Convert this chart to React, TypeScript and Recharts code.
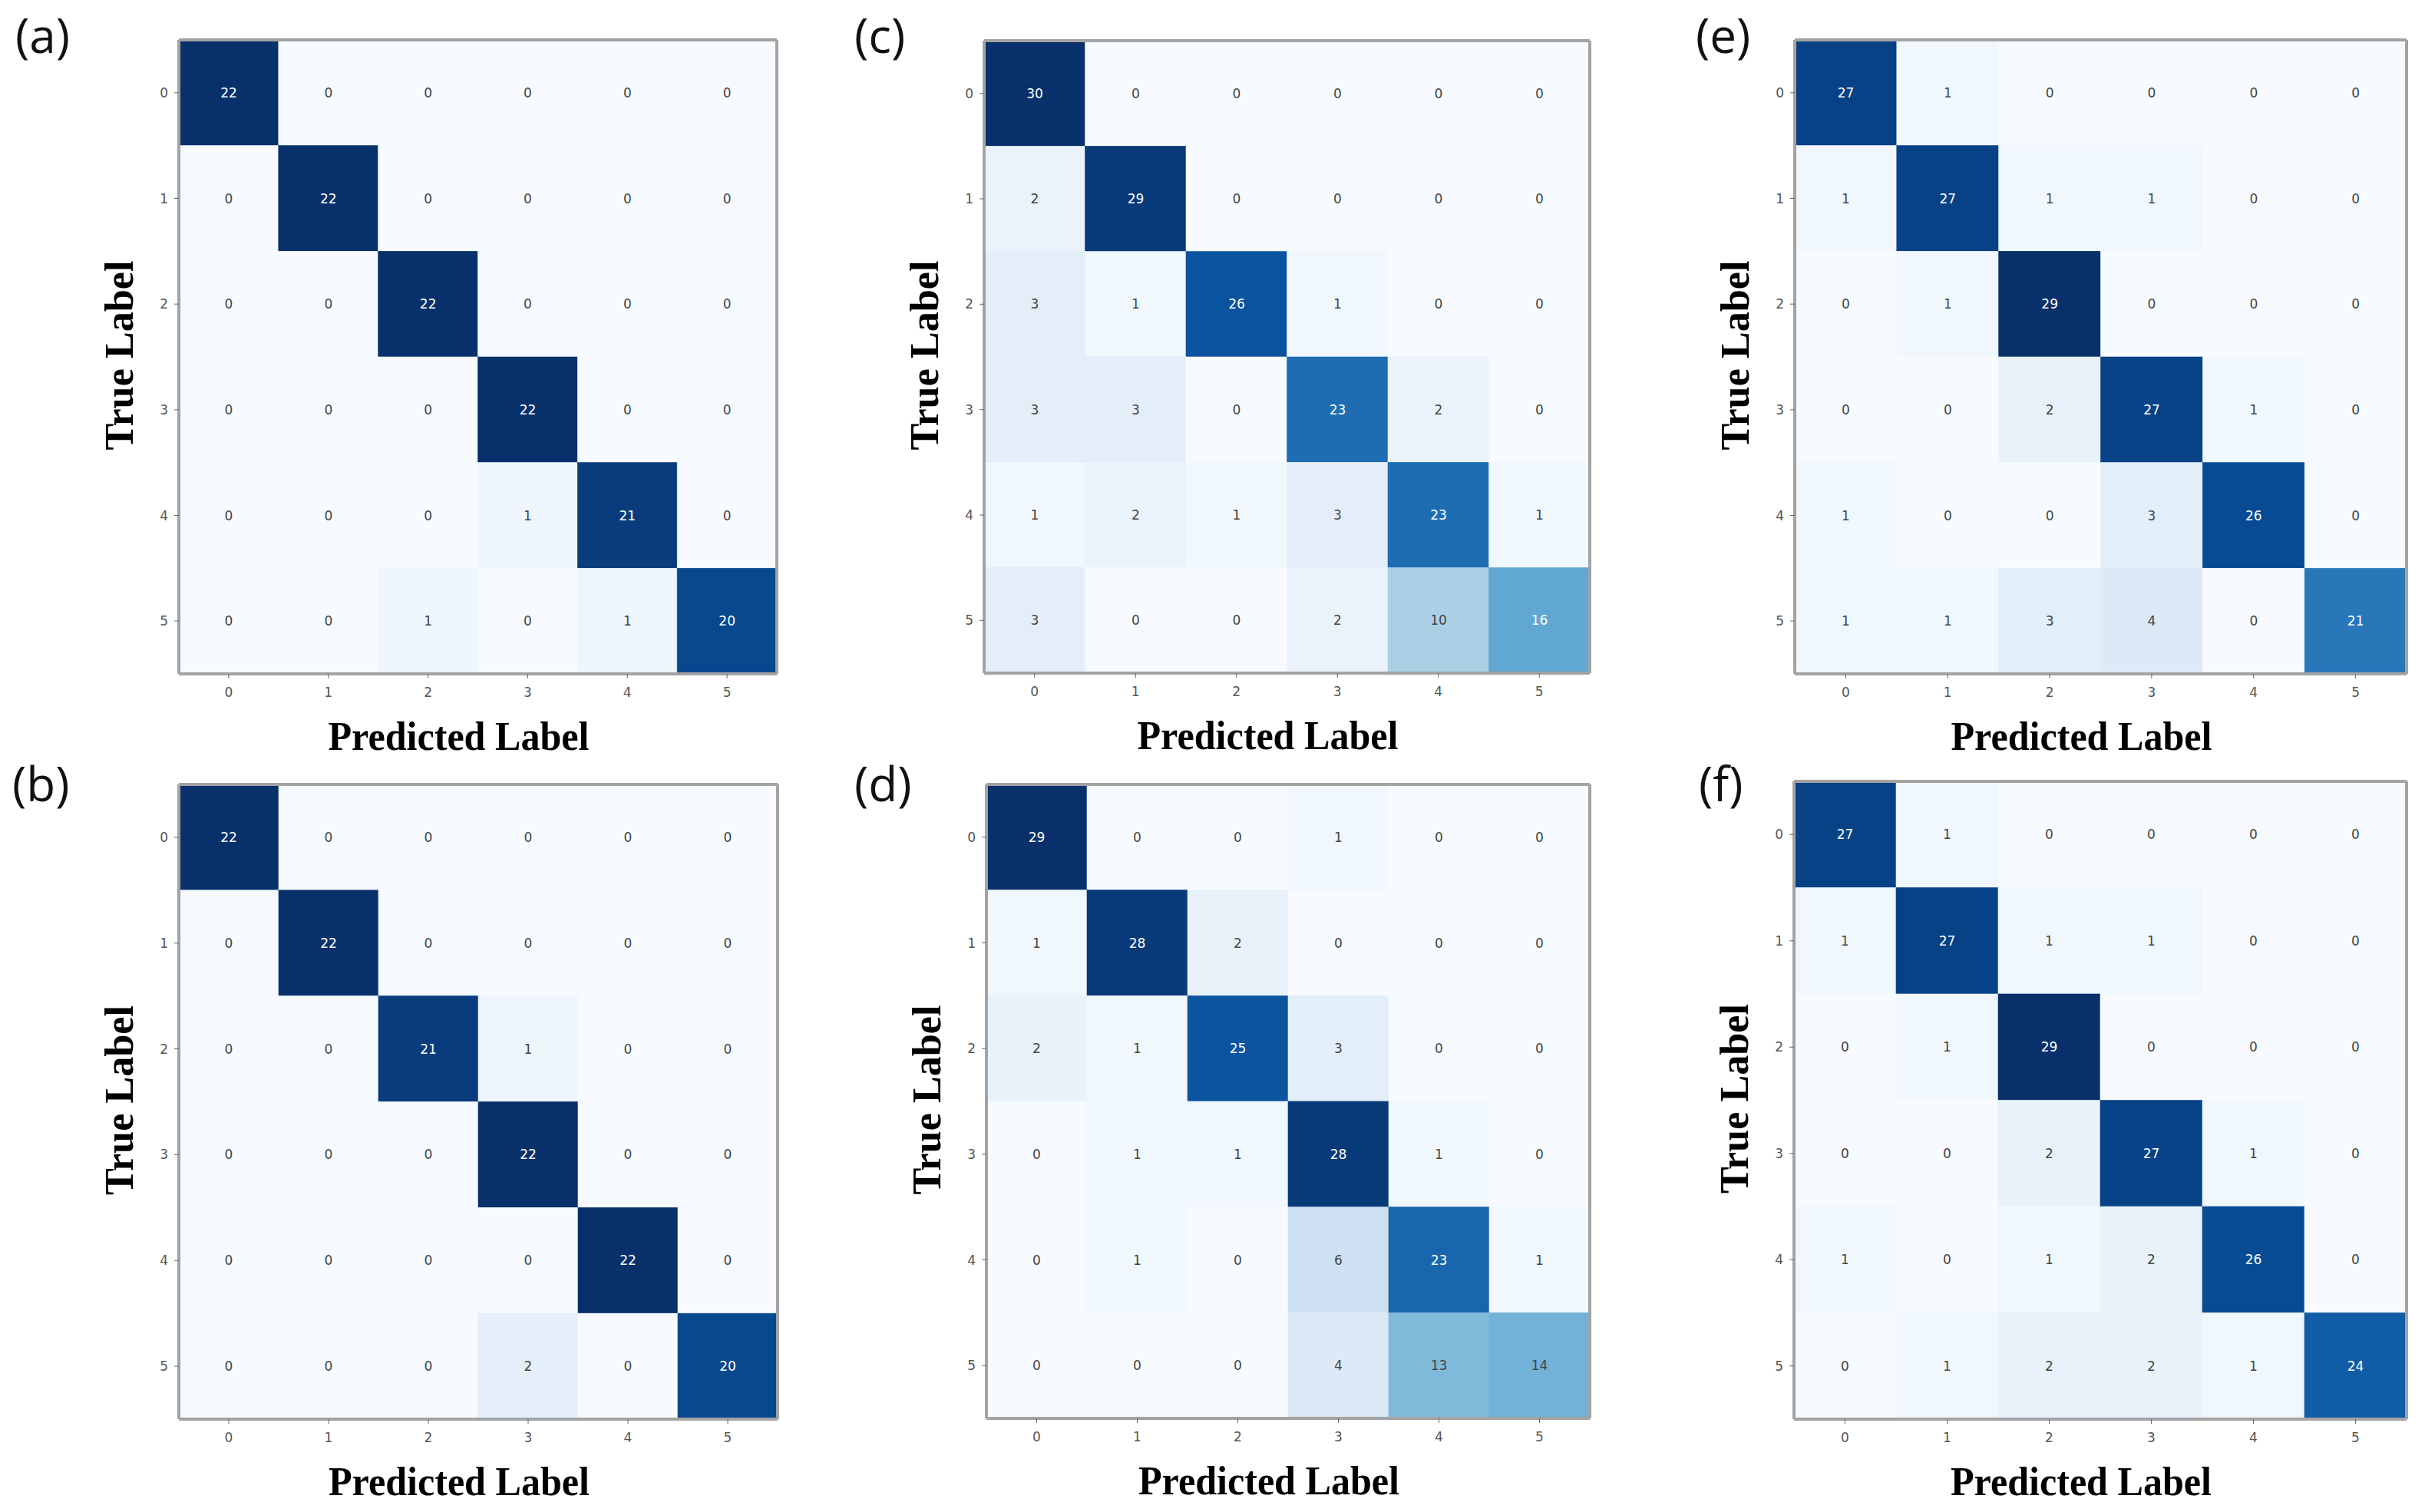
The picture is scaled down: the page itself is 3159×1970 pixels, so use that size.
import React from "react";
import { BarChart, Bar, XAxis, YAxis } from "recharts";

// class labels on both axes
const predictedLabels = ["0", "1", "2", "3", "4", "5"];
const trueLabels = ["0", "1", "2", "3", "4", "5"];

// confusion matrices, rows = true label, columns = predicted label
const matrixA = [
  [22, 0, 0, 0, 0, 0],
  [0, 22, 0, 0, 0, 0],
  [0, 0, 22, 0, 0, 0],
  [0, 0, 0, 22, 0, 0],
  [0, 0, 0, 1, 21, 0],
  [0, 0, 1, 0, 1, 20],
];
const matrixB = [
  [22, 0, 0, 0, 0, 0],
  [0, 22, 0, 0, 0, 0],
  [0, 0, 21, 1, 0, 0],
  [0, 0, 0, 22, 0, 0],
  [0, 0, 0, 0, 22, 0],
  [0, 0, 0, 2, 0, 20],
];
const matrixC = [
  [30, 0, 0, 0, 0, 0],
  [2, 29, 0, 0, 0, 0],
  [3, 1, 26, 1, 0, 0],
  [3, 3, 0, 23, 2, 0],
  [1, 2, 1, 3, 23, 1],
  [3, 0, 0, 2, 10, 16],
];
const matrixD = [
  [29, 0, 0, 1, 0, 0],
  [1, 28, 2, 0, 0, 0],
  [2, 1, 25, 3, 0, 0],
  [0, 1, 1, 28, 1, 0],
  [0, 1, 0, 6, 23, 1],
  [0, 0, 0, 4, 13, 14],
];
const matrixE = [
  [27, 1, 0, 0, 0, 0],
  [1, 27, 1, 1, 0, 0],
  [0, 1, 29, 0, 0, 0],
  [0, 0, 2, 27, 1, 0],
  [1, 0, 0, 3, 26, 0],
  [1, 1, 3, 4, 0, 21],
];
const matrixF = [
  [27, 1, 0, 0, 0, 0],
  [1, 27, 1, 1, 0, 0],
  [0, 1, 29, 0, 0, 0],
  [0, 0, 2, 27, 1, 0],
  [1, 0, 1, 2, 26, 0],
  [0, 1, 2, 2, 1, 24],
];

// matplotlib "Blues"
const BLUES = ["#f7fbff", "#deebf7", "#c6dbef", "#9ecae1", "#6baed6", "#4292c6", "#2171b5", "#08519c", "#08306b"];

const hex = (c: string) => [1, 3, 5].map((i) => parseInt(c.slice(i, i + 2), 16));

function blues(t: number): string {
  const s = Math.max(0, Math.min(1, t)) * (BLUES.length - 1);
  const i = Math.min(Math.floor(s), BLUES.length - 2);
  const f = s - i;
  const a = hex(BLUES[i]);
  const b = hex(BLUES[i + 1]);
  const m = a.map((v, k) => Math.round(v + (b[k] - v) * f));
  return `rgb(${m[0]},${m[1]},${m[2]})`;
}

type Panel = {
  tag: string;
  matrix: number[][];
  left: number; // plot area position on the page
  top: number;
  w: number;
  h: number;
  tagX: number;
  tagY: number;
};

const panels: Panel[] = [
  { tag: "(a)", matrix: matrixA, left: 233, top: 52, w: 779, h: 826, tagX: 20, tagY: 69 },
  { tag: "(c)", matrix: matrixC, left: 1282, top: 53, w: 789, h: 824, tagX: 1113, tagY: 69 },
  { tag: "(e)", matrix: matrixE, left: 2338, top: 52, w: 797, h: 826, tagX: 2209, tagY: 69 },
  { tag: "(b)", matrix: matrixB, left: 233, top: 1022, w: 780, h: 827, tagX: 16, tagY: 1044 },
  { tag: "(d)", matrix: matrixD, left: 1285, top: 1022, w: 786, h: 826, tagX: 1113, tagY: 1044 },
  { tag: "(f)", matrix: matrixF, left: 2337, top: 1018, w: 798, h: 831, tagX: 2213, tagY: 1044 },
];

const PAD_L = 110;
const PAD_T = 10;
const SPINE = "#a3a3a3";
const tickStyle = { fontSize: 17, fill: "#555", fontFamily: "DejaVu Sans" };

const ConfusionMatrix = ({ p }: { p: Panel }) => {
  const max = Math.max(...p.matrix.flat());

  // one stacked column per predicted label, one unit-high segment per true label
  const data = predictedLabels.map((lab, c) => {
    const row: Record<string, any> = { pred: lab };
    trueLabels.forEach((_, r) => {
      row[`r${r}`] = 1;
      row[`v${r}`] = p.matrix[r][c];
    });
    return row;
  });

  const cellShape = (r: number) => (props: any) => {
    const { x, y, width, height, payload } = props;
    const v = payload[`v${r}`];
    const fill = blues(v / max);
    const top = Math.min(y, y + height);
    const hh = Math.abs(height);
    return (
      <g>
        <rect x={x} y={top} width={width} height={hh} fill={fill} stroke={fill} strokeWidth={0.6} />
        <text
          x={x + width / 2}
          y={top + hh / 2}
          textAnchor="middle"
          dominantBaseline="central"
          fontSize={17}
          fontFamily="DejaVu Sans"
          fill={v > max / 2 ? "#ffffff" : "#444"}
        >
          {v}
        </text>
      </g>
    );
  };

  return (
    <div style={{ position: "absolute", left: p.left - PAD_L, top: p.top - PAD_T }}>
      <BarChart
        width={p.w + PAD_L + 10}
        height={p.h + PAD_T + 120}
        data={data}
        barCategoryGap={0}
        margin={{ top: 9, right: 9, left: 60, bottom: 60 }}
      >
        <XAxis
          dataKey="pred"
          type="category"
          height={60}
          interval={0}
          tick={tickStyle}
          tickSize={6}
          tickMargin={12}
          tickLine={{ stroke: "#666" }}
          axisLine={{ stroke: SPINE, strokeWidth: 4 }}
          label={{
            content: () => (
              <text
                x={PAD_L + p.w / 2 - 25}
                y={PAD_T + p.h + 99}
                textAnchor="middle"
                fontFamily="Liberation Serif"
                fontWeight="bold"
                fontSize={52}
                textLength={340}
                lengthAdjust="spacingAndGlyphs"
                fill="#000"
              >
                Predicted Label
              </text>
            ),
          }}
        />
        <XAxis xAxisId="top" dataKey="pred" orientation="top" height={1} tick={false} tickLine={false} axisLine={{ stroke: SPINE, strokeWidth: 4 }} />
        <YAxis
          type="number"
          domain={[0, trueLabels.length]}
          reversed
          ticks={trueLabels.map((_, i) => i + 0.5)}
          tickFormatter={(v: number) => trueLabels[Math.floor(v)]}
          interval={0}
          width={50}
          tick={tickStyle}
          tickSize={6}
          tickMargin={8}
          tickLine={{ stroke: "#666" }}
          axisLine={{ stroke: SPINE, strokeWidth: 4 }}
          label={{
            content: () => (
              <text
                x={PAD_L - 60}
                y={PAD_T + p.h / 2 - 2}
                transform={`rotate(-90, ${PAD_L - 60}, ${PAD_T + p.h / 2 - 2})`}
                textAnchor="middle"
                fontFamily="Liberation Serif"
                fontWeight="bold"
                fontSize={52}
                textLength={247}
                lengthAdjust="spacingAndGlyphs"
                fill="#000"
              >
                True Label
              </text>
            ),
          }}
        />
        <YAxis yAxisId="right" orientation="right" width={1} domain={[0, 6]} tick={false} tickLine={false} axisLine={{ stroke: SPINE, strokeWidth: 4 }} />
        {trueLabels.map((_, r) => (
          <Bar key={r} dataKey={`r${r}`} stackId="cm" isAnimationActive={false} shape={cellShape(r)} />
        ))}
      </BarChart>
    </div>
  );
};

export default function App() {
  return (
    <div style={{ position: "absolute", left: 0, top: 0, width: 3159, height: 1970, background: "#fff" }}>
      {panels.map((p) => (
        <ConfusionMatrix key={p.tag} p={p} />
      ))}
      <svg width={3159} height={1970} style={{ position: "absolute", left: 0, top: 0, pointerEvents: "none" }}>
        {panels.map((p) => (
          <text key={p.tag} x={p.tagX} y={p.tagY} fontFamily="Open Sans" fontSize={62} fill="#111">
            {p.tag}
          </text>
        ))}
      </svg>
    </div>
  );
}
